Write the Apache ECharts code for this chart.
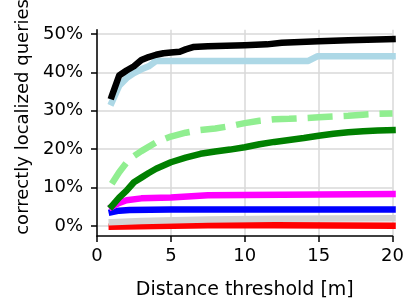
<!DOCTYPE html>
<html>
<head>
<meta charset="utf-8">
<script src="https://cdn.jsdelivr.net/npm/echarts@6/dist/echarts.min.js"></script>
<style>html,body{margin:0;padding:0;background:#fff}#c{width:407px;height:305px}</style>
</head>
<body>
<div id="c"></div>
<script>
const yTicks = [0, 10, 20, 30, 40, 50];
const xTicks = [0, 5, 10, 15, 20];

const blackX = [1, 1.5, 2, 2.5, 3, 3.5, 4, 4.5, 5, 5.6, 6, 6.5, 7.5, 10, 11.5, 12.5, 15, 17, 20];
const blackY = [33.8, 39.2, 40.5, 41.6, 43.2, 44, 44.6, 45, 45.2, 45.4, 46, 46.6, 46.8, 47.1, 47.3, 47.7, 48.1, 48.4, 48.7];

const lightblueX = [1, 1.5, 2, 2.5, 3, 3.5, 4, 14.3, 14.9, 20];
const lightblueY = [32.2, 36.5, 38.5, 39.8, 40.8, 41.6, 43.0, 43.0, 44.2, 44.2];

const lightgreenX = [1, 1.5, 2, 2.5, 3, 4, 5, 6, 7, 8, 9, 10, 11, 12, 13, 14, 15, 16, 17, 18, 19, 20];
const lightgreenY = [11, 14, 16.5, 18.2, 19.5, 21.8, 23.3, 24.3, 25, 25.4, 26, 26.8, 27.4, 27.8, 27.9, 28.1, 28.3, 28.5, 28.7, 29, 29.2, 29.3];

const greenX = [1, 1.5, 2, 2.5, 3, 3.5, 4, 5, 6, 7, 8, 9, 10, 11, 12, 13, 14, 15, 16, 17, 18, 19, 20];
const greenY = [5.2, 7.4, 9.2, 11.4, 12.6, 13.8, 14.9, 16.6, 17.8, 18.8, 19.4, 19.9, 20.5, 21.3, 21.9, 22.4, 22.9, 23.5, 24, 24.4, 24.7, 24.9, 25.0];

const magentaX = [1, 1.5, 2, 3, 5, 7.5, 10, 15, 20];
const magentaY = [5.0, 6.0, 6.7, 7.2, 7.4, 8.0, 8.1, 8.2, 8.3];

const blueX = [1, 1.5, 2.2, 5, 10, 20];
const blueY = [3.6, 4.0, 4.2, 4.3, 4.3, 4.3];

const grayX = [1, 3, 7.5, 12, 20];
const grayY = [1.0, 1.3, 1.7, 1.9, 2.0];

const redX = [1, 4, 7.5, 12, 20];
const redY = [-0.2, 0.0, 0.2, 0.2, 0.1];

function pairs(xs, ys) { return xs.map((x, i) => [x, ys[i]]); }

const FONT = 'DejaVu Sans';
function line(name, xs, ys, color, dashed) {
  return {
    name: name, type: 'line', data: pairs(xs, ys), showSymbol: false, symbol: 'none',
    silent: true, animation: false, smooth: false,
    lineStyle: { color: color, width: 6.5, type: dashed ? [25, 11] : 'solid', cap: dashed ? 'butt' : 'square', join: 'round' }
  };
}

const chart = echarts.init(document.getElementById('c'), null, { renderer: 'canvas' });
chart.setOption({
  animation: false,
  backgroundColor: '#fff',
  grid: { left: 97, right: 13, top: 29.5, bottom: 61, containLabel: false },
  xAxis: {
    type: 'value', min: 0, max: 20, interval: 5,
    name: 'Distance threshold [m]', nameLocation: 'middle', nameGap: 45,
    nameTextStyle: { fontFamily: FONT, fontSize: 19, color: '#000' },
    axisLine: { show: true, onZero: false, lineStyle: { color: '#000', width: 1.5 } },
    axisTick: { show: true, length: 6, lineStyle: { color: '#000', width: 1.5 } },
    axisLabel: { fontFamily: FONT, fontSize: 18, color: '#000', margin: 11,
      customValues: xTicks },
    splitLine: { show: true, lineStyle: { color: '#d9d9d9', width: 1.5 } }
  },
  yAxis: {
    type: 'value', min: -2.6, max: 51.1,
    name: 'correctly localized queries', nameLocation: 'middle', nameGap: 64,
    nameTextStyle: { fontFamily: FONT, fontSize: 18, color: '#000', padding: [0, 0, 0, 32] },
    axisLine: { show: true, lineStyle: { color: '#000', width: 1.5 } },
    axisTick: { show: true, length: 6, lineStyle: { color: '#000', width: 1.5 }, customValues: yTicks },
    axisLabel: { fontFamily: FONT, fontSize: 18, color: '#000', margin: 14,
      customValues: yTicks, formatter: v => Math.round(v) + '%' },
    splitLine: { show: true, lineStyle: { color: '#d9d9d9', width: 1.5 }, customValues: yTicks }
  },
  series: [
    line('red', redX, redY, '#ff0000'),
    line('lightgray', grayX, grayY, '#d3d3d3'),
    line('blue', blueX, blueY, '#0000ff'),
    line('magenta', magentaX, magentaY, '#ff00ff'),
    line('lightgreen', lightgreenX, lightgreenY, '#90ee90', true),
    line('green', greenX, greenY, '#008000'),
    line('lightblue', lightblueX, lightblueY, '#add8e6'),
    line('black', blackX, blackY, '#000000')
  ]
});
</script>
</body>
</html>
